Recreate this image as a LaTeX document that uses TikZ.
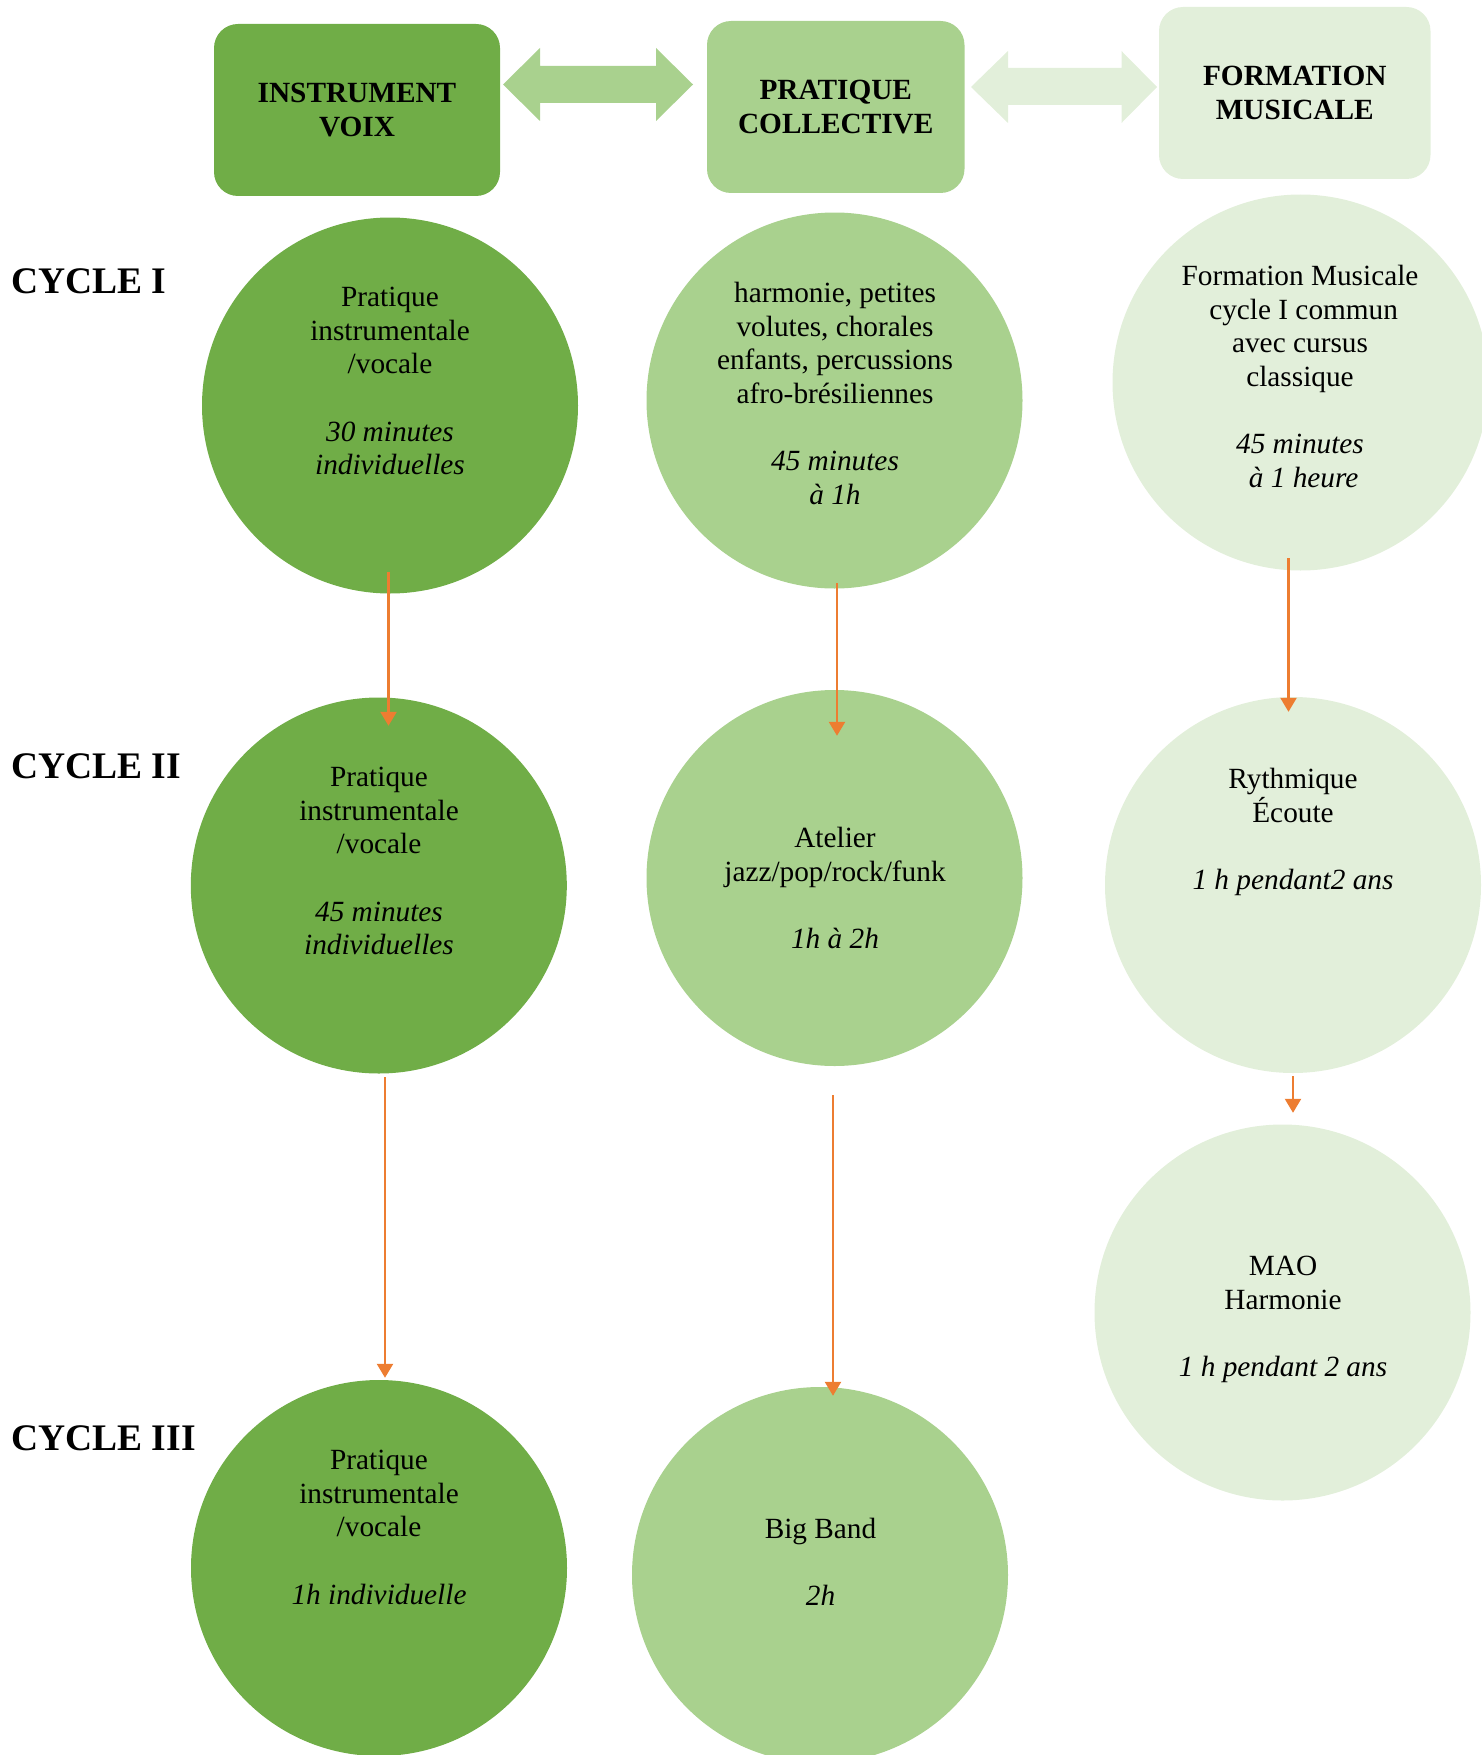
\documentclass[tikz,border=0pt]{standalone}
\usepackage{fontspec}
\setmainfont{Liberation Serif}
\usetikzlibrary{calc,arrows.meta}
\definecolor{gdark}{HTML}{70AD47}
\definecolor{gmid}{HTML}{A9D18E}
\definecolor{glight}{HTML}{E2EFDA}
\definecolor{orng}{HTML}{ED7D31}
\tikzset{
  headbox/.style={rectangle, rounded corners=24pt, inner sep=0pt, align=center,
    font=\fontsize{29.3}{33.6}\selectfont\bfseries},
  bubble/.style={circle, minimum size=376pt, inner sep=0pt},
  bubtext/.style={anchor=north, align=center, inner sep=0pt,
    font=\fontsize{29.3}{33.6}\selectfont},
  cyclelabel/.style={anchor=base west, inner sep=0pt,
    font=\fontsize{37.5}{40}\selectfont\bfseries},
  conn/.style={draw=orng, line width=2.4pt, -{Triangle[width=16pt,length=14pt]}},
}
\begin{document}
\begin{tikzpicture}[x=1pt,y=-1pt]
\useasboundingbox (0,0) rectangle (1482,1755);

% header boxes
\node[headbox, fill=gdark, minimum width=286pt, minimum height=172pt] (b1) at (357,110) {INSTRUMENT\\VOIX};
\node[headbox, fill=gmid, minimum width=257.5pt, minimum height=172pt] (b2) at (835.75,107) {PRATIQUE\\COLLECTIVE};
\node[headbox, fill=glight, minimum width=271.5pt, minimum height=172pt] (b3) at (1294.75,93) {FORMATION\\MUSICALE};

% double arrows between headers
\fill[gmid] (503,84.5) -- (540,48) -- (540,66) -- (656,66) -- (656,48) -- (693,84.5)
  -- (656,121) -- (656,103) -- (540,103) -- (540,121) -- cycle;
\fill[glight] (971,87) -- (1008,51) -- (1008,68) -- (1121.5,68) -- (1121.5,51) -- (1157,87)
  -- (1121.5,123) -- (1121.5,105) -- (1008,105) -- (1008,123) -- cycle;

% cycle labels
\node[cyclelabel] (cy1) at (11,293) {CYCLE I};
\node[cyclelabel] (cy2) at (11,778) {CYCLE II};
\node[cyclelabel] (cy3) at (11,1450) {CYCLE III};

% bubbles
\node[bubble, fill=gdark] (c11) at (390,405.5) {};
\node[bubble, fill=gdark] (c12) at (378.8,885.5) {};
\node[bubble, fill=gdark] (c13) at (379,1568) {};
\node[bubble, fill=gmid] (c21) at (834.5,400.5) {};
\node[bubble, fill=gmid] (c22) at (834.5,878) {};
\node[bubble, fill=gmid] (c23) at (820,1575) {};
\node[bubble, fill=glight] (c31) at (1300.5,382.5) {};
\node[bubble, fill=glight] (c32) at (1293,885) {};
\node[bubble, fill=glight] (c33) at (1282.5,1312.5) {};

% bubble texts
\node[bubtext] (t11) at (390,287) {Pratique\\instrumentale\\/vocale\\[33.6pt]\textit{30 minutes}\\\textit{individuelles}};
\node[bubtext] (t12) at (379,767) {Pratique\\instrumentale\\/vocale\\[33.6pt]\textit{45 minutes}\\\textit{individuelles}};
\node[bubtext] (t13) at (379,1450) {Pratique\\instrumentale\\/vocale\\[33.6pt]\textit{1h individuelle}};
\node[bubtext] (t21) at (835,282) {harmonie, petites\\volutes, chorales\\enfants, percussions\\afro-brésiliennes\\[33.6pt]\textit{45 minutes}\\\textit{à 1h}};
\node[bubtext] (t22) at (835,827) {Atelier\\jazz/pop/rock/funk\\[33.6pt]\textit{1h à 2h}};
\node[bubtext] (t23) at (820.5,1518) {Big Band\\[33.6pt]\textit{2h}};
\node[bubtext] (t31) at (1300,265) {Formation Musicale\\\hspace*{7.3pt}cycle I commun\\avec cursus\\classique\\[33.6pt]\textit{45 minutes}\\\textit{\hspace*{7.3pt}à 1 heure}};
\node[bubtext] (t32) at (1293,768) {Rythmique\\Écoute\\[33.6pt]\textit{1 h pendant2 ans}};
\node[bubtext] (t33) at (1283,1256) {MAO\\Harmonie\\[33.6pt]\textit{1 h pendant 2 ans}};

% orange connectors
\draw[conn] ($(c11.south)+(-1.5,-21.5)$) -- ($(c12.north)+(9.7,28.5)$);
\draw[conn] ($(c12.south)+(6.2,3.5)$) -- ($(c13.north)+(6,-2)$);
\draw[conn] ($(c21.south)+(2.5,-5.5)$) -- ($(c22.north)+(2.5,46)$);
\draw[conn] ($(c22.south)+(-1.5,29)$) -- ($(c23.north)+(13,9)$);
\draw[conn] ($(c31.south)+(-12,-12.5)$) -- ($(c32.north)+(-4.5,15)$);
\draw[conn] ($(c32.south)+(0,3)$) -- ($(c33.north)+(10.5,-11.5)$);
\end{tikzpicture}
\end{document}
